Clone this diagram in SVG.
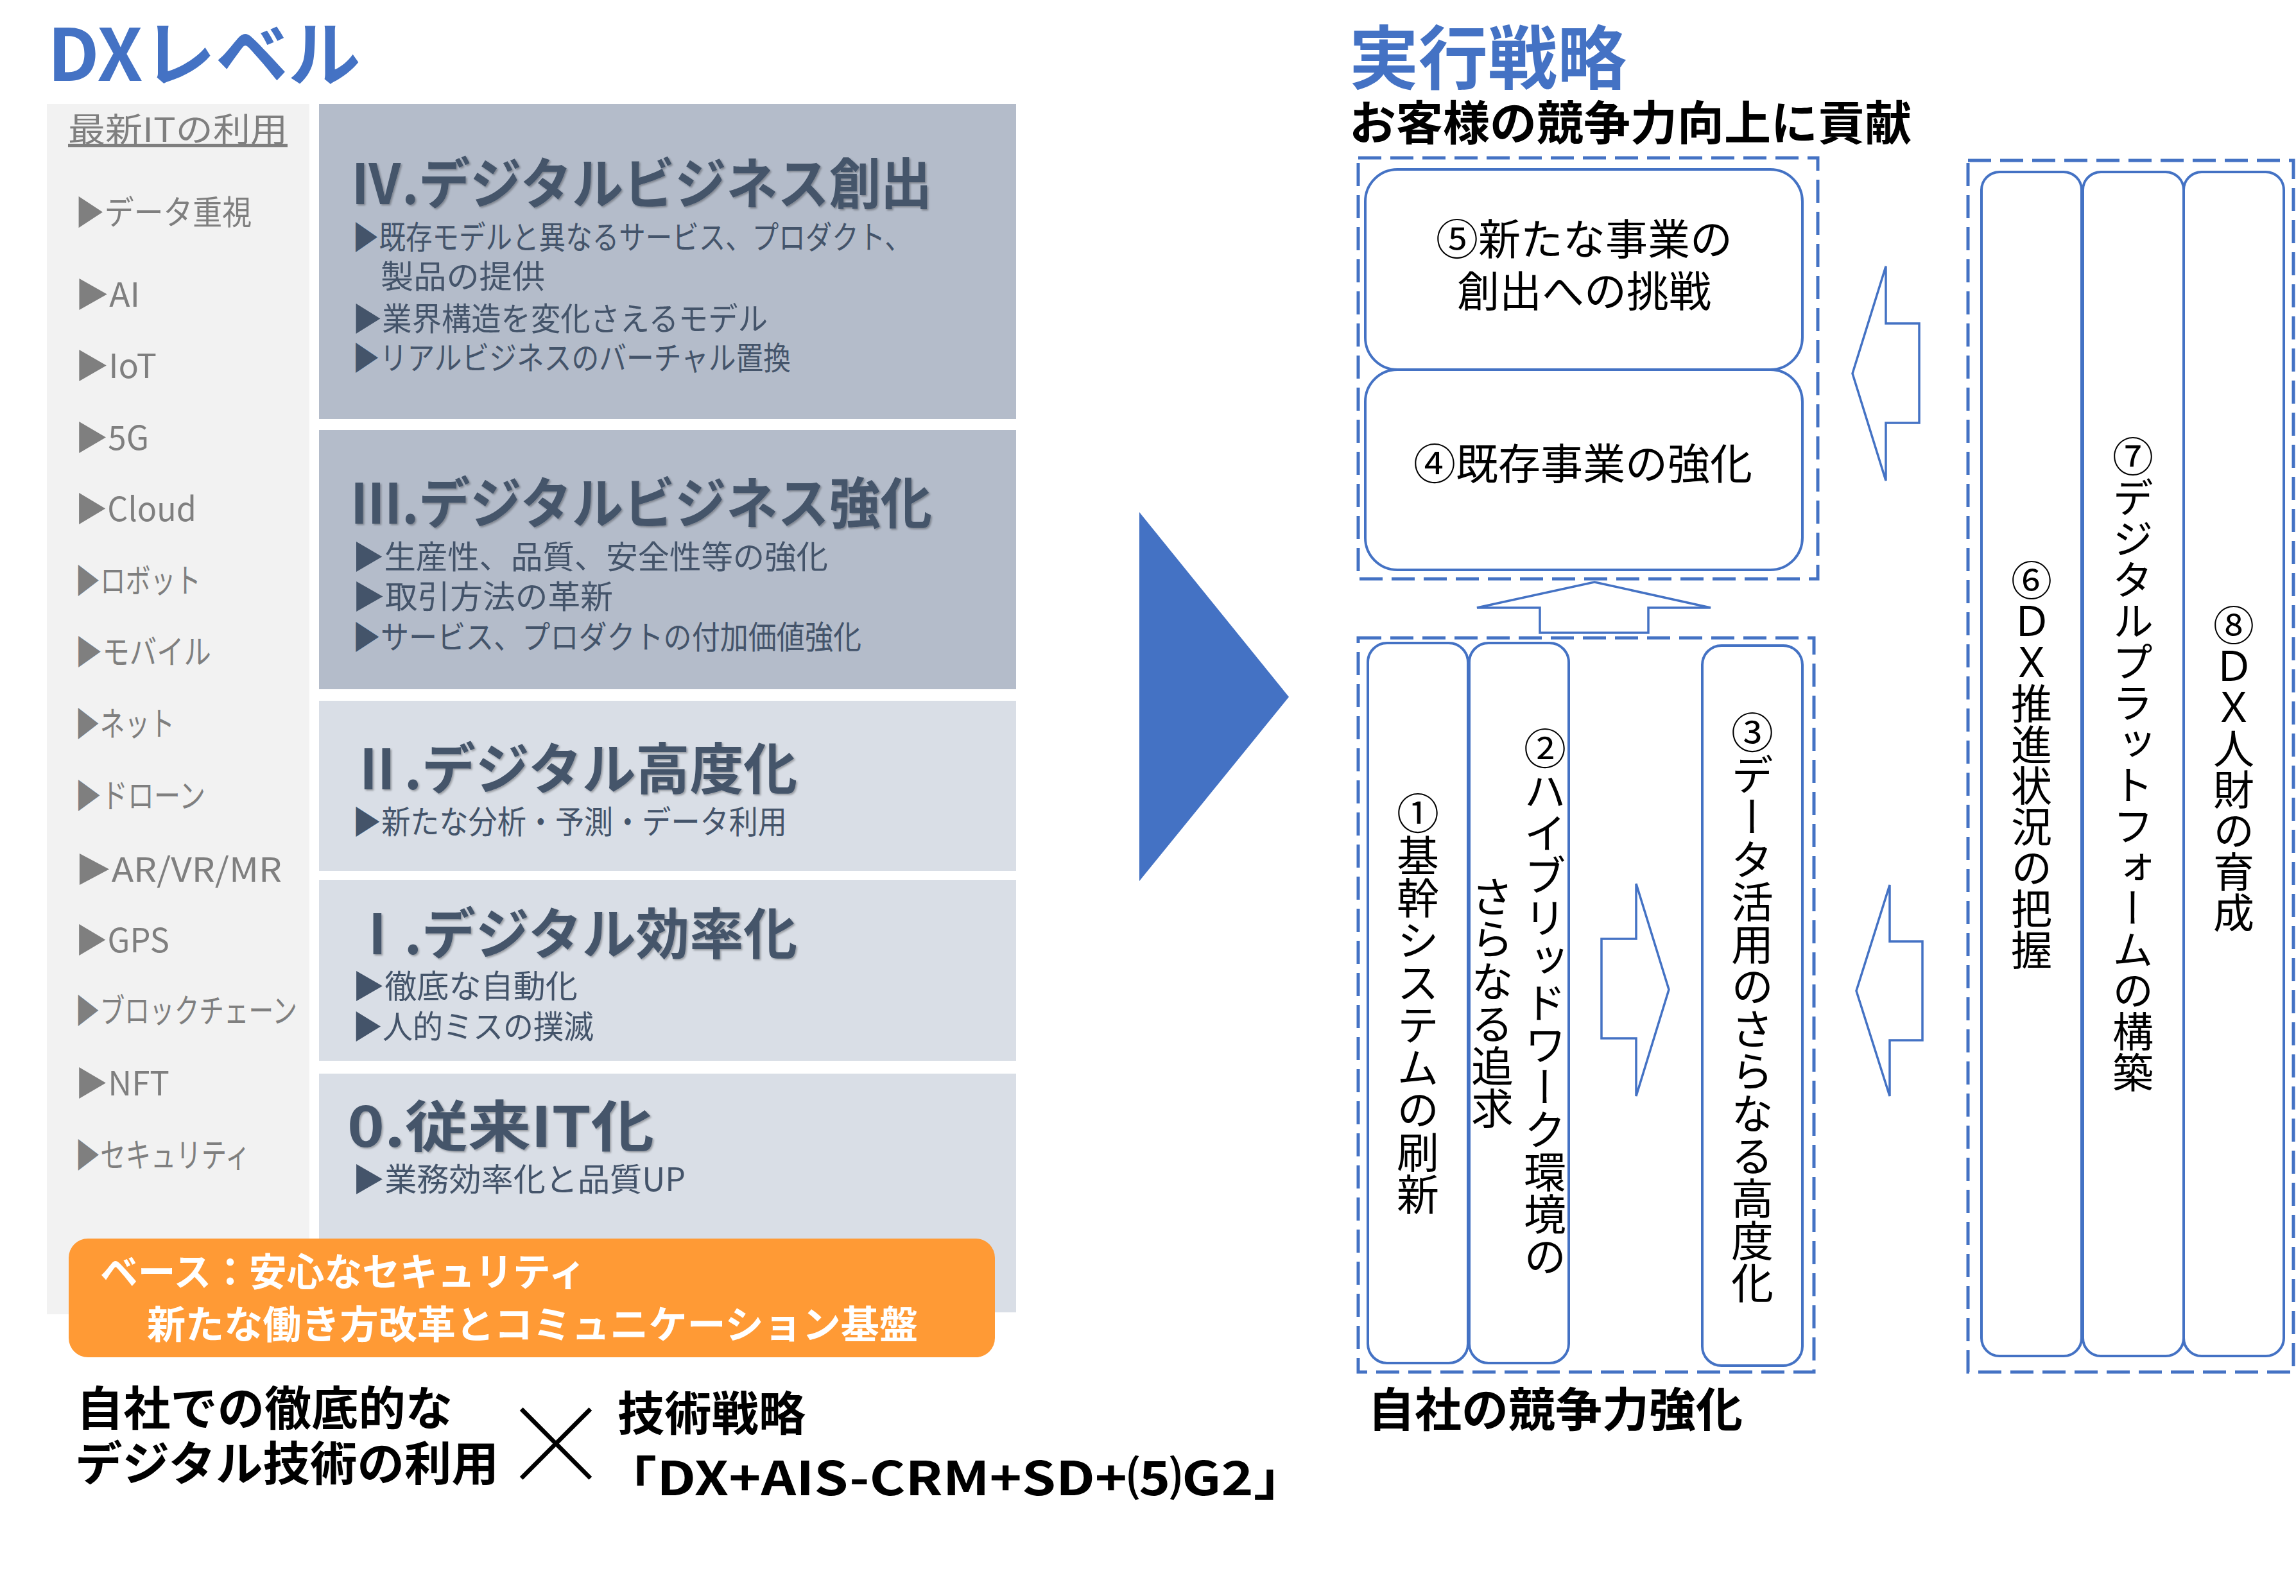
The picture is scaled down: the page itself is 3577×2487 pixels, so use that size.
<svg xmlns="http://www.w3.org/2000/svg" width="3577" height="2487" viewBox="0 0 3577 2487">
<style>
text { font-family: "Noto Sans CJK JP", "Noto Sans", sans-serif; }
.item { font-size: 52px; fill: #7F7F7F; }
.lvt { font-size: 86px; font-weight: bold; fill: #44546A; filter: url(#shadow); }
.lvs { font-size: 50px; fill: #44546A; }
.dark { fill: #B4BCCA; }
.light { fill: #D9DEE6; }
.dash { fill: none; stroke: #4472C4; stroke-width: 5; stroke-dasharray: 36 14; }
.box { fill: #FFFFFF; stroke: #4472C4; stroke-width: 4; }
.arr { fill: #FFFFFF; stroke: #4472C4; stroke-width: 3.5; stroke-linejoin: miter; }
.bt { font-size: 66px; fill: #000000; text-anchor: middle; }
.vt { font-size: 66px; fill: #000000; writing-mode: vertical-rl; text-anchor: middle; }
.vt2 { font-size: 64px; fill: #000000; writing-mode: vertical-rl; text-anchor: middle; }
.bb { font-size: 73px; font-weight: bold; fill: #000000; }
.ot { font-size: 60px; font-weight: bold; fill: #FFFFFF; }
.title { font-weight: bold; fill: #4472C4; }
</style>
<defs>
  <filter id="shadow" x="-5%" y="-20%" width="110%" height="140%">
    <feDropShadow dx="2" dy="2" stdDeviation="1.5" flood-color="#000000" flood-opacity="0.3"/>
  </filter>
</defs>

<!-- Left: DX level -->
<g id="dx-title">
  <text class="title" x="74" y="126" font-size="112" textLength="488" lengthAdjust="spacingAndGlyphs">DXレベル</text>
</g>

<g id="tech-list">
  <rect x="73" y="162" width="409" height="1886" fill="#F2F2F2"/>
  <text class="item" x="106" y="221" text-decoration="underline" textLength="342" lengthAdjust="spacingAndGlyphs">最新ITの利用</text>
  <text class="item" x="117" y="350" textLength="275" lengthAdjust="spacingAndGlyphs">▶データ重視</text>
  <text class="item" x="117" y="478" textLength="101" lengthAdjust="spacingAndGlyphs">▶AI</text>
  <text class="item" x="117" y="589" textLength="127" lengthAdjust="spacingAndGlyphs">▶IoT</text>
  <text class="item" x="117" y="701" textLength="115" lengthAdjust="spacingAndGlyphs">▶5G</text>
  <text class="item" x="117" y="812" textLength="189" lengthAdjust="spacingAndGlyphs">▶Cloud</text>
  <text class="item" x="117" y="924" textLength="196" lengthAdjust="spacingAndGlyphs">▶ロボット</text>
  <text class="item" x="117" y="1035" textLength="212" lengthAdjust="spacingAndGlyphs">▶モバイル</text>
  <text class="item" x="117" y="1147" textLength="155" lengthAdjust="spacingAndGlyphs">▶ネット</text>
  <text class="item" x="117" y="1259" textLength="203" lengthAdjust="spacingAndGlyphs">▶ドローン</text>
  <text class="item" x="117" y="1374" textLength="322" lengthAdjust="spacingAndGlyphs">▶AR/VR/MR</text>
  <text class="item" x="117" y="1484" textLength="147" lengthAdjust="spacingAndGlyphs">▶GPS</text>
  <text class="item" x="117" y="1594" textLength="346" lengthAdjust="spacingAndGlyphs">▶ブロックチェーン</text>
  <text class="item" x="117" y="1707" textLength="147" lengthAdjust="spacingAndGlyphs">▶NFT</text>
  <text class="item" x="117" y="1819" textLength="273" lengthAdjust="spacingAndGlyphs">▶セキュリティ</text>
</g>

<g id="level-4">
  <rect class="dark" x="497" y="162" width="1086" height="491"/>
  <text class="lvt" x="546" y="318" textLength="906" lengthAdjust="spacingAndGlyphs">Ⅳ.デジタルビジネス創出</text>
  <text class="lvs" x="549" y="388" textLength="871" lengthAdjust="spacingAndGlyphs">▶既存モデルと異なるサービス、プロダクト、</text>
  <text class="lvs" x="593" y="449" textLength="256" lengthAdjust="spacingAndGlyphs">製品の提供</text>
  <text class="lvs" x="549" y="515" textLength="647" lengthAdjust="spacingAndGlyphs">▶業界構造を変化さえるモデル</text>
  <text class="lvs" x="549" y="576" textLength="683" lengthAdjust="spacingAndGlyphs">▶リアルビジネスのバーチャル置換</text>
</g>

<g id="level-3">
  <rect class="dark" x="497" y="670" width="1086" height="404"/>
  <text class="lvt" x="546" y="816" textLength="906" lengthAdjust="spacingAndGlyphs">Ⅲ.デジタルビジネス強化</text>
  <text class="lvs" x="549" y="886" textLength="741" lengthAdjust="spacingAndGlyphs">▶生産性、品質、安全性等の強化</text>
  <text class="lvs" x="549" y="948" textLength="406" lengthAdjust="spacingAndGlyphs">▶取引方法の革新</text>
  <text class="lvs" x="549" y="1011" textLength="793" lengthAdjust="spacingAndGlyphs">▶サービス、プロダクトの付加価値強化</text>
</g>

<g id="level-2">
  <rect class="light" x="497" y="1092" width="1086" height="265"/>
  <text class="lvt" x="546" y="1230" textLength="696" lengthAdjust="spacingAndGlyphs">Ⅱ.デジタル高度化</text>
  <text class="lvs" x="549" y="1299" textLength="677" lengthAdjust="spacingAndGlyphs">▶新たな分析・予測・データ利用</text>
</g>

<g id="level-1">
  <rect class="light" x="497" y="1371" width="1086" height="282"/>
  <text class="lvt" x="546" y="1487" textLength="696" lengthAdjust="spacingAndGlyphs">Ⅰ.デジタル効率化</text>
  <text class="lvs" x="549" y="1555" textLength="351" lengthAdjust="spacingAndGlyphs">▶徹底な自動化</text>
  <text class="lvs" x="549" y="1618" textLength="376" lengthAdjust="spacingAndGlyphs">▶人的ミスの撲滅</text>
</g>

<g id="level-0">
  <rect class="light" x="497" y="1673" width="1086" height="372"/>
  <text class="lvt" x="541" y="1787" textLength="478" lengthAdjust="spacingAndGlyphs">0.従来IT化</text>
  <text class="lvs" x="549" y="1856" textLength="519" lengthAdjust="spacingAndGlyphs">▶業務効率化と品質UP</text>
</g>

<g id="base">
  <rect x="107" y="1930" width="1443" height="185" rx="30" ry="30" fill="#FF9A35"/>
  <text class="ot" x="156" y="2004" textLength="757" lengthAdjust="spacingAndGlyphs">ベース：安心なセキュリティ</text>
  <text class="ot" x="229" y="2086" textLength="1201" lengthAdjust="spacingAndGlyphs">新たな働き方改革とコミュニケーション基盤</text>
</g>

<g id="formula">
  <text class="bb" x="119" y="2221" textLength="586" lengthAdjust="spacingAndGlyphs">自社での徹底的な</text>
  <text class="bb" x="117" y="2307" textLength="660" lengthAdjust="spacingAndGlyphs">デジタル技術の利用</text>
  <text x="866" y="2320" font-family="Liberation Sans, sans-serif" font-size="188" text-anchor="middle" fill="#000000" stroke="#FFFFFF" stroke-width="6">×</text>
  <text class="bb" x="962" y="2229" textLength="293" lengthAdjust="spacingAndGlyphs">技術戦略</text>
  <text class="bb" x="938" y="2330" font-size="78" textLength="1100" lengthAdjust="spacingAndGlyphs">「DX+AIS-CRM+SD+⑸G2」</text>
</g>

<g id="connectors">
  <polygon id="big-arrow" points="1775,798 2008,1086 1775,1373" fill="#4472C4"/>
  <polygon class="arr" points="2484,907 2665,947 2568,947 2568,986 2399,986 2399,947 2301,947"/>
  <polygon class="arr" points="2886,582 2938,415 2938,504 2990,504 2990,659 2938,659 2938,749"/>
  <polygon class="arr" points="2495,1463 2549,1463 2549,1377 2600,1542 2549,1708 2549,1618 2495,1618"/>
  <polygon class="arr" points="2892,1544 2944,1379 2944,1467 2995,1467 2995,1621 2944,1621 2944,1708"/>
</g>

<!-- Right: execution strategy -->
<g id="strategy-title">
  <text class="title" x="2102" y="130" font-size="108">実行戦略</text>
  <text class="bb" x="2102" y="218">お客様の競争力向上に貢献</text>
</g>

<g id="customer-group">
  <rect class="dash" x="2116" y="246" width="716" height="656"/>
</g>
<g id="node-5">
  <rect class="box" x="2127" y="264" width="681" height="312" rx="50" ry="50"/>
  <text class="bt" x="2468" y="397">⑤新たな事業の</text>
  <text class="bt" x="2468" y="478">創出への挑戦</text>
</g>
<g id="node-4">
  <rect class="box" x="2127" y="576" width="681" height="312" rx="50" ry="50"/>
  <text class="bt" x="2466" y="747">④既存事業の強化</text>
</g>

<g id="own-group">
  <rect class="dash" x="2116" y="994" width="710" height="1144"/>
  <text class="bb" x="2131" y="2223">自社の競争力強化</text>
</g>
<g id="node-1">
  <rect class="box" x="2131" y="1002" width="156" height="1122" rx="30" ry="30"/>
  <text class="vt" x="2209" y="1564">①基幹システムの刷新</text>
</g>
<g id="node-2">
  <rect class="box" x="2289" y="1002" width="155" height="1122" rx="30" ry="30"/>
  <text class="vt" x="2407" y="1562">②ハイブリッドワーク環境の</text>
  <text class="vt" x="2325" y="1562">さらなる追求</text>
</g>
<g id="node-3">
  <rect class="box" x="2652" y="1006" width="156" height="1122" rx="30" ry="30"/>
  <text class="vt" x="2730" y="1570">③データ活用のさらなる高度化</text>
</g>

<g id="foundation-group">
  <rect class="dash" x="3066" y="250" width="507" height="1888"/>
</g>
<g id="node-6">
  <rect class="box" x="3087" y="268" width="156" height="1845" rx="28" ry="28"/>
  <text class="vt2" x="3165" y="1192">⑥ＤＸ推進状況の把握</text>
</g>
<g id="node-7">
  <rect class="box" x="3245" y="268" width="157" height="1845" rx="28" ry="28"/>
  <text class="vt2" x="3323" y="1191">⑦デジタルプラットフォームの構築</text>
</g>
<g id="node-8">
  <rect class="box" x="3402" y="268" width="156" height="1845" rx="28" ry="28"/>
  <text class="vt2" x="3480" y="1198">⑧ＤＸ人財の育成</text>
</g>
</svg>
